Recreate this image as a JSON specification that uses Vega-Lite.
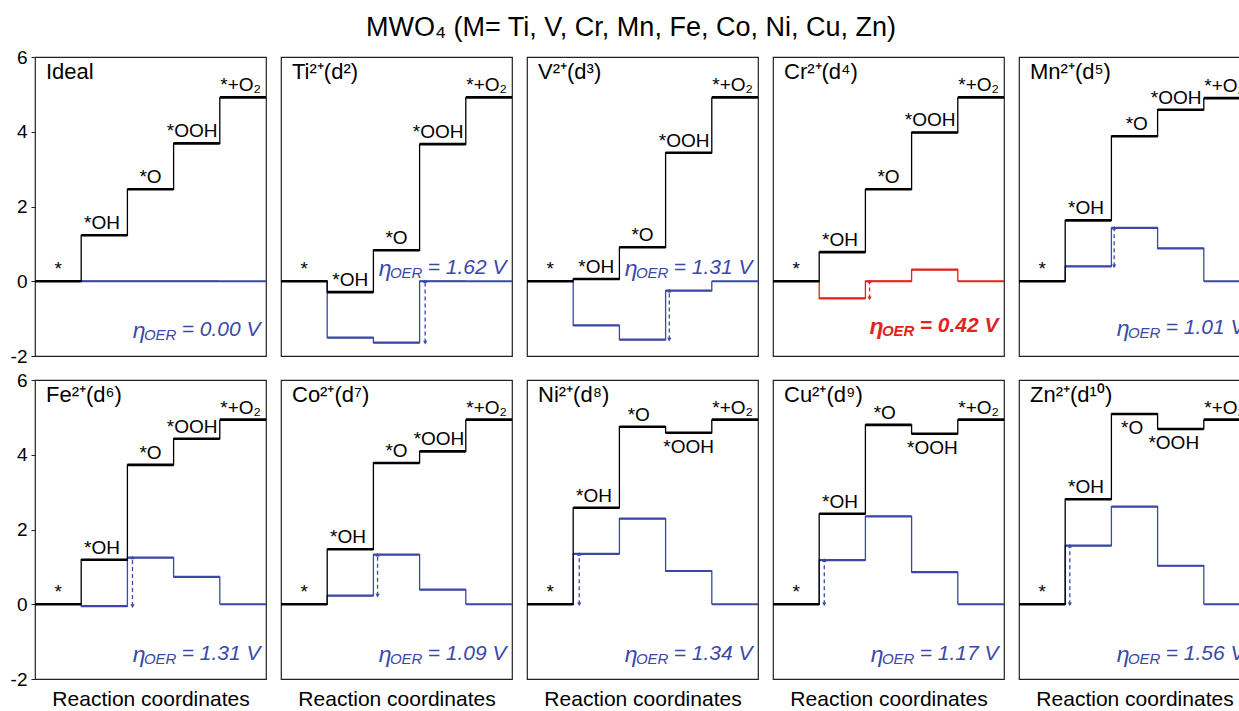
{
  "$schema": "https://vega.github.io/schema/vega-lite/v6.json",
  "padding": {"left": 10, "top": 14, "right": 0, "bottom": 0},
  "background": "white",
  "title": {"text": "MWO₄ (M= Ti, V, Cr, Mn, Fe, Co, Ni, Cu, Zn)", "fontSize": 27, "fontWeight": "normal", "font": "Liberation Sans", "color": "black", "anchor": "middle", "offset": 6},
  "config": {"font": "Liberation Sans", "view": {"stroke": "#222222", "strokeWidth": 1.2},
             "header": {"labels": false, "title": null, "labelPadding": 0, "titlePadding": 0, "labelFontSize": 0, "labelColor": "transparent"},
             "headerFacet": {"labels": false, "title": null, "labelPadding": 0, "titlePadding": 0, "labelFontSize": 0, "labelColor": "transparent"}},
  "data": {"values": [
    {"p":"Ideal","k":"ttl","t":"Ideal"},
    {"p":"Ideal","k":"lv","s":"G","x0":0,"x1":1,"xc":0.5,"y":0,"t":"*","side":"a"},
    {"p":"Ideal","k":"lv","s":"G","x0":1,"x1":2,"xc":1.45,"y":1.23,"t":"*OH","side":"a"},
    {"p":"Ideal","k":"lv","s":"G","x0":2,"x1":3,"xc":2.5,"y":2.46,"t":"*O","side":"a"},
    {"p":"Ideal","k":"lv","s":"G","x0":3,"x1":4,"xc":3.4,"y":3.69,"t":"*OOH","side":"a"},
    {"p":"Ideal","k":"lv","s":"G","x0":4,"x1":5,"xc":4.45,"y":4.92,"t":"*+O₂","side":"a"},
    {"p":"Ideal","k":"lv","s":"U","x0":0,"x1":1,"y":0},
    {"p":"Ideal","k":"lv","s":"U","x0":1,"x1":2,"y":0},
    {"p":"Ideal","k":"lv","s":"U","x0":2,"x1":3,"y":0},
    {"p":"Ideal","k":"lv","s":"U","x0":3,"x1":4,"y":0},
    {"p":"Ideal","k":"lv","s":"U","x0":4,"x1":5,"y":0},
    {"p":"Ideal","k":"eta","v":"= 0.00 V","ey":-1.3},

    {"p":"Ti","k":"ttl","t":"Ti²⁺(d²)"},
    {"p":"Ti","k":"lv","s":"G","x0":0,"x1":1,"xc":0.5,"y":0,"t":"*","side":"a"},
    {"p":"Ti","k":"lv","s":"G","x0":1,"x1":2,"xc":1.5,"y":-0.29,"t":"*OH","side":"a"},
    {"p":"Ti","k":"lv","s":"G","x0":2,"x1":3,"xc":2.5,"y":0.83,"t":"*O","side":"a"},
    {"p":"Ti","k":"lv","s":"G","x0":3,"x1":4,"xc":3.4,"y":3.67,"t":"*OOH","side":"a"},
    {"p":"Ti","k":"lv","s":"G","x0":4,"x1":5,"xc":4.45,"y":4.92,"t":"*+O₂","side":"a"},
    {"p":"Ti","k":"lv","s":"U","x0":0,"x1":1,"y":0},
    {"p":"Ti","k":"lv","s":"U","x0":1,"x1":2,"y":-1.51},
    {"p":"Ti","k":"lv","s":"U","x0":2,"x1":3,"y":-1.64},
    {"p":"Ti","k":"lv","s":"U","x0":3,"x1":4,"y":0},
    {"p":"Ti","k":"lv","s":"U","x0":4,"x1":5,"y":0},
    {"p":"Ti","k":"eta","v":"= 1.62 V","ey":0.36},
    {"p":"Ti","k":"arr","ax":3.12,"lo":-1.64,"hi":0},

    {"p":"V","k":"ttl","t":"V²⁺(d³)"},
    {"p":"V","k":"lv","s":"G","x0":0,"x1":1,"xc":0.5,"y":0,"t":"*","side":"a"},
    {"p":"V","k":"lv","s":"G","x0":1,"x1":2,"xc":1.5,"y":0.06,"t":"*OH","side":"a"},
    {"p":"V","k":"lv","s":"G","x0":2,"x1":3,"xc":2.5,"y":0.91,"t":"*O","side":"a"},
    {"p":"V","k":"lv","s":"G","x0":3,"x1":4,"xc":3.4,"y":3.44,"t":"*OOH","side":"a"},
    {"p":"V","k":"lv","s":"G","x0":4,"x1":5,"xc":4.45,"y":4.92,"t":"*+O₂","side":"a"},
    {"p":"V","k":"lv","s":"U","x0":0,"x1":1,"y":0},
    {"p":"V","k":"lv","s":"U","x0":1,"x1":2,"y":-1.18},
    {"p":"V","k":"lv","s":"U","x0":2,"x1":3,"y":-1.56},
    {"p":"V","k":"lv","s":"U","x0":3,"x1":4,"y":-0.25},
    {"p":"V","k":"lv","s":"U","x0":4,"x1":5,"y":0},
    {"p":"V","k":"eta","v":"= 1.31 V","ey":0.36},
    {"p":"V","k":"arr","ax":3.08,"lo":-1.56,"hi":-0.25},

    {"p":"Cr","k":"ttl","t":"Cr²⁺(d⁴)"},
    {"p":"Cr","k":"lv","s":"G","x0":0,"x1":1,"xc":0.5,"y":0,"t":"*","side":"a"},
    {"p":"Cr","k":"lv","s":"G","x0":1,"x1":2,"xc":1.45,"y":0.78,"t":"*OH","side":"a"},
    {"p":"Cr","k":"lv","s":"G","x0":2,"x1":3,"xc":2.5,"y":2.46,"t":"*O","side":"a"},
    {"p":"Cr","k":"lv","s":"G","x0":3,"x1":4,"xc":3.4,"y":3.98,"t":"*OOH","side":"a"},
    {"p":"Cr","k":"lv","s":"G","x0":4,"x1":5,"xc":4.45,"y":4.92,"t":"*+O₂","side":"a"},
    {"p":"Cr","k":"lv","s":"U","x0":0,"x1":1,"y":0},
    {"p":"Cr","k":"lv","s":"U","x0":1,"x1":2,"y":-0.46},
    {"p":"Cr","k":"lv","s":"U","x0":2,"x1":3,"y":0},
    {"p":"Cr","k":"lv","s":"U","x0":3,"x1":4,"y":0.31},
    {"p":"Cr","k":"lv","s":"U","x0":4,"x1":5,"y":0},
    {"p":"Cr","k":"eta","v":"= 0.42 V","ey":-1.2},
    {"p":"Cr","k":"arr","ax":2.09,"lo":-0.46,"hi":0},

    {"p":"Mn","k":"ttl","t":"Mn²⁺(d⁵)"},
    {"p":"Mn","k":"lv","s":"G","x0":0,"x1":1,"xc":0.5,"y":0,"t":"*","side":"a"},
    {"p":"Mn","k":"lv","s":"G","x0":1,"x1":2,"xc":1.45,"y":1.63,"t":"*OH","side":"a"},
    {"p":"Mn","k":"lv","s":"G","x0":2,"x1":3,"xc":2.55,"y":3.88,"t":"*O","side":"a"},
    {"p":"Mn","k":"lv","s":"G","x0":3,"x1":4,"xc":3.4,"y":4.59,"t":"*OOH","side":"a"},
    {"p":"Mn","k":"lv","s":"G","x0":4,"x1":5,"xc":4.45,"y":4.9,"t":"*+O₂","side":"a"},
    {"p":"Mn","k":"lv","s":"U","x0":0,"x1":1,"y":0},
    {"p":"Mn","k":"lv","s":"U","x0":1,"x1":2,"y":0.4},
    {"p":"Mn","k":"lv","s":"U","x0":2,"x1":3,"y":1.43},
    {"p":"Mn","k":"lv","s":"U","x0":3,"x1":4,"y":0.88},
    {"p":"Mn","k":"lv","s":"U","x0":4,"x1":5,"y":0},
    {"p":"Mn","k":"eta","v":"= 1.01 V","ey":-1.25},
    {"p":"Mn","k":"arr","ax":2.06,"lo":0.4,"hi":1.43},

    {"p":"Fe","k":"ttl","t":"Fe²⁺(d⁶)"},
    {"p":"Fe","k":"lv","s":"G","x0":0,"x1":1,"xc":0.5,"y":0,"t":"*","side":"a"},
    {"p":"Fe","k":"lv","s":"G","x0":1,"x1":2,"xc":1.45,"y":1.19,"t":"*OH","side":"a"},
    {"p":"Fe","k":"lv","s":"G","x0":2,"x1":3,"xc":2.5,"y":3.73,"t":"*O","side":"a"},
    {"p":"Fe","k":"lv","s":"G","x0":3,"x1":4,"xc":3.4,"y":4.43,"t":"*OOH","side":"a"},
    {"p":"Fe","k":"lv","s":"G","x0":4,"x1":5,"xc":4.45,"y":4.94,"t":"*+O₂","side":"a"},
    {"p":"Fe","k":"lv","s":"U","x0":0,"x1":1,"y":0},
    {"p":"Fe","k":"lv","s":"U","x0":1,"x1":2,"y":-0.05},
    {"p":"Fe","k":"lv","s":"U","x0":2,"x1":3,"y":1.25},
    {"p":"Fe","k":"lv","s":"U","x0":3,"x1":4,"y":0.73},
    {"p":"Fe","k":"lv","s":"U","x0":4,"x1":5,"y":0},
    {"p":"Fe","k":"eta","v":"= 1.31 V","ey":-1.33},
    {"p":"Fe","k":"arr","ax":2.11,"lo":-0.05,"hi":1.25},

    {"p":"Co","k":"ttl","t":"Co²⁺(d⁷)"},
    {"p":"Co","k":"lv","s":"G","x0":0,"x1":1,"xc":0.5,"y":0,"t":"*","side":"a"},
    {"p":"Co","k":"lv","s":"G","x0":1,"x1":2,"xc":1.45,"y":1.47,"t":"*OH","side":"a"},
    {"p":"Co","k":"lv","s":"G","x0":2,"x1":3,"xc":2.5,"y":3.78,"t":"*O","side":"a"},
    {"p":"Co","k":"lv","s":"G","x0":3,"x1":4,"xc":3.42,"y":4.09,"t":"*OOH","side":"a"},
    {"p":"Co","k":"lv","s":"G","x0":4,"x1":5,"xc":4.45,"y":4.94,"t":"*+O₂","side":"a"},
    {"p":"Co","k":"lv","s":"U","x0":0,"x1":1,"y":0},
    {"p":"Co","k":"lv","s":"U","x0":1,"x1":2,"y":0.23},
    {"p":"Co","k":"lv","s":"U","x0":2,"x1":3,"y":1.33},
    {"p":"Co","k":"lv","s":"U","x0":3,"x1":4,"y":0.39},
    {"p":"Co","k":"lv","s":"U","x0":4,"x1":5,"y":0},
    {"p":"Co","k":"eta","v":"= 1.09 V","ey":-1.33},
    {"p":"Co","k":"arr","ax":2.09,"lo":0.23,"hi":1.33},

    {"p":"Ni","k":"ttl","t":"Ni²⁺(d⁸)"},
    {"p":"Ni","k":"lv","s":"G","x0":0,"x1":1,"xc":0.5,"y":0,"t":"*","side":"a"},
    {"p":"Ni","k":"lv","s":"G","x0":1,"x1":2,"xc":1.45,"y":2.58,"t":"*OH","side":"a"},
    {"p":"Ni","k":"lv","s":"G","x0":2,"x1":3,"xc":2.42,"y":4.75,"t":"*O","side":"a"},
    {"p":"Ni","k":"lv","s":"G","x0":3,"x1":4,"xc":3.5,"y":4.59,"t":"*OOH","side":"b"},
    {"p":"Ni","k":"lv","s":"G","x0":4,"x1":5,"xc":4.45,"y":4.94,"t":"*+O₂","side":"a"},
    {"p":"Ni","k":"lv","s":"U","x0":0,"x1":1,"y":0},
    {"p":"Ni","k":"lv","s":"U","x0":1,"x1":2,"y":1.35},
    {"p":"Ni","k":"lv","s":"U","x0":2,"x1":3,"y":2.29},
    {"p":"Ni","k":"lv","s":"U","x0":3,"x1":4,"y":0.89},
    {"p":"Ni","k":"lv","s":"U","x0":4,"x1":5,"y":0},
    {"p":"Ni","k":"eta","v":"= 1.34 V","ey":-1.33},
    {"p":"Ni","k":"arr","ax":1.13,"lo":0,"hi":1.35},

    {"p":"Cu","k":"ttl","t":"Cu²⁺(d⁹)"},
    {"p":"Cu","k":"lv","s":"G","x0":0,"x1":1,"xc":0.5,"y":0,"t":"*","side":"a"},
    {"p":"Cu","k":"lv","s":"G","x0":1,"x1":2,"xc":1.45,"y":2.42,"t":"*OH","side":"a"},
    {"p":"Cu","k":"lv","s":"G","x0":2,"x1":3,"xc":2.42,"y":4.8,"t":"*O","side":"a"},
    {"p":"Cu","k":"lv","s":"G","x0":3,"x1":4,"xc":3.45,"y":4.56,"t":"*OOH","side":"b"},
    {"p":"Cu","k":"lv","s":"G","x0":4,"x1":5,"xc":4.45,"y":4.94,"t":"*+O₂","side":"a"},
    {"p":"Cu","k":"lv","s":"U","x0":0,"x1":1,"y":0},
    {"p":"Cu","k":"lv","s":"U","x0":1,"x1":2,"y":1.18},
    {"p":"Cu","k":"lv","s":"U","x0":2,"x1":3,"y":2.35},
    {"p":"Cu","k":"lv","s":"U","x0":3,"x1":4,"y":0.86},
    {"p":"Cu","k":"lv","s":"U","x0":4,"x1":5,"y":0},
    {"p":"Cu","k":"eta","v":"= 1.17 V","ey":-1.33},
    {"p":"Cu","k":"arr","ax":1.11,"lo":0,"hi":1.18},

    {"p":"Zn","k":"ttl","t":"Zn²⁺(d¹⁰)"},
    {"p":"Zn","k":"lv","s":"G","x0":0,"x1":1,"xc":0.5,"y":0,"t":"*","side":"a"},
    {"p":"Zn","k":"lv","s":"G","x0":1,"x1":2,"xc":1.45,"y":2.81,"t":"*OH","side":"a"},
    {"p":"Zn","k":"lv","s":"G","x0":2,"x1":3,"xc":2.45,"y":5.09,"t":"*O","side":"b"},
    {"p":"Zn","k":"lv","s":"G","x0":3,"x1":4,"xc":3.35,"y":4.69,"t":"*OOH","side":"b"},
    {"p":"Zn","k":"lv","s":"G","x0":4,"x1":5,"xc":4.45,"y":4.94,"t":"*+O₂","side":"a"},
    {"p":"Zn","k":"lv","s":"U","x0":0,"x1":1,"y":0},
    {"p":"Zn","k":"lv","s":"U","x0":1,"x1":2,"y":1.57},
    {"p":"Zn","k":"lv","s":"U","x0":2,"x1":3,"y":2.61},
    {"p":"Zn","k":"lv","s":"U","x0":3,"x1":4,"y":1.03},
    {"p":"Zn","k":"lv","s":"U","x0":4,"x1":5,"y":0},
    {"p":"Zn","k":"eta","v":"= 1.56 V","ey":-1.33},
    {"p":"Zn","k":"arr","ax":1.1,"lo":0,"hi":1.57}
  ]},
  "facet": {"field": "p", "type": "nominal", "title": null, "sort": ["Ideal","Ti","V","Cr","Mn","Fe","Co","Ni","Cu","Zn"], "header": {"labels": false, "labelPadding": 0, "titlePadding": 0, "labelFontSize": 0, "labelColor": "transparent"}},
  "columns": 5,
  "spacing": {"row": 22, "column": 9},
  "spec": {
    "width": 231,
    "height": 299,
    "layer": [
      {
        "transform": [{"filter": "datum.k === 'lv' && datum.s === 'U'"}],
        "mark": {"type": "line", "interpolate": "step-after", "strokeWidth": 1.3},
        "encoding": {
          "x": {"field": "x0", "type": "quantitative", "scale": {"domain": [0, 5], "nice": false, "zero": false},
                "axis": {"title": "Reaction coordinates", "labels": false, "ticks": false, "domain": false, "grid": false, "titleFontSize": 21, "titleFontWeight": "normal", "titlePadding": 8, "titleColor": "black", "titleFont": "Liberation Sans"}},
          "y": {"field": "y", "type": "quantitative", "scale": {"domain": [-2, 6], "nice": false, "zero": false},
                "axis": {"values": [-2, 0, 2, 4, 6], "labelExpr": "replace(datum.label, '−', '-')", "title": null, "grid": false, "domain": false, "tickSize": -4, "tickColor": "#222222", "labelFontSize": 19, "labelColor": "black", "labelPadding": 8, "labelFont": "Liberation Sans"}},
          "color": {"field": "p", "type": "nominal", "scale": {"domain": ["Ideal","Ti","V","Cr","Mn","Fe","Co","Ni","Cu","Zn"], "range": ["#3b48a8","#3b48a8","#3b48a8","#e3231d","#3b48a8","#3b48a8","#3b48a8","#3b48a8","#3b48a8","#3b48a8"]}, "legend": null}
        }
      },
      {
        "transform": [{"filter": "datum.k === 'lv' && datum.s === 'U' && datum.x0 >= 1"}],
        "mark": {"type": "rule", "strokeWidth": 2.2},
        "encoding": {
          "x": {"field": "x0", "type": "quantitative"},
          "x2": {"field": "x1"},
          "y": {"field": "y", "type": "quantitative"},
          "color": {"field": "p", "type": "nominal", "legend": null}
        }
      },
      {
        "transform": [{"filter": "datum.k === 'arr'"}],
        "mark": {"type": "rule", "strokeWidth": 1.3, "strokeDash": [4, 3]},
        "encoding": {
          "x": {"field": "ax", "type": "quantitative"},
          "y": {"field": "lo", "type": "quantitative"},
          "y2": {"field": "hi"},
          "color": {"field": "p", "type": "nominal", "legend": null}
        }
      },
      {
        "transform": [{"filter": "datum.k === 'arr'"}],
        "mark": {"type": "point", "shape": "triangle-up", "filled": true, "size": 18, "opacity": 1},
        "encoding": {
          "x": {"field": "ax", "type": "quantitative"},
          "y": {"field": "hi", "type": "quantitative"},
          "color": {"field": "p", "type": "nominal", "legend": null}
        }
      },
      {
        "transform": [{"filter": "datum.k === 'arr'"}],
        "mark": {"type": "point", "shape": "triangle-down", "filled": true, "size": 18, "opacity": 1},
        "encoding": {
          "x": {"field": "ax", "type": "quantitative"},
          "y": {"field": "lo", "type": "quantitative"},
          "color": {"field": "p", "type": "nominal", "legend": null}
        }
      },
      {
        "transform": [{"filter": "datum.k === 'lv' && datum.s === 'G'"}],
        "mark": {"type": "line", "interpolate": "step-after", "strokeWidth": 1.3, "color": "black"},
        "encoding": {
          "x": {"field": "x0", "type": "quantitative"},
          "y": {"field": "y", "type": "quantitative"}
        }
      },
      {
        "transform": [{"filter": "datum.k === 'lv' && datum.s === 'G'"}],
        "mark": {"type": "rule", "strokeWidth": 2.6, "color": "black"},
        "encoding": {
          "x": {"field": "x0", "type": "quantitative"},
          "x2": {"field": "x1"},
          "y": {"field": "y", "type": "quantitative"}
        }
      },
      {
        "transform": [{"filter": "datum.k === 'lv' && datum.s === 'G' && datum.side === 'a'"}],
        "mark": {"type": "text", "fontSize": 19, "baseline": "alphabetic", "align": "center", "dy": -6, "color": "black"},
        "encoding": {
          "x": {"field": "xc", "type": "quantitative"},
          "y": {"field": "y", "type": "quantitative"},
          "text": {"field": "t"}
        }
      },
      {
        "transform": [{"filter": "datum.k === 'lv' && datum.s === 'G' && datum.side === 'b'"}],
        "mark": {"type": "text", "fontSize": 19, "baseline": "top", "align": "center", "dy": 5, "color": "black"},
        "encoding": {
          "x": {"field": "xc", "type": "quantitative"},
          "y": {"field": "y", "type": "quantitative"},
          "text": {"field": "t"}
        }
      },
      {
        "transform": [{"filter": "datum.k === 'ttl'"}],
        "mark": {"type": "text", "fontSize": 22, "baseline": "top", "align": "left", "dx": 11, "dy": 5, "color": "black"},
        "encoding": {
          "x": {"datum": 0},
          "y": {"datum": 6},
          "text": {"field": "t"}
        }
      },
      {
        "transform": [{"filter": "datum.k === 'eta'"}],
        "mark": {"type": "text", "fontSize": 21, "fontStyle": "italic", "fontWeight": {"expr": "datum.p === 'Cr' ? 'bold' : 'normal'"}, "baseline": "middle", "align": "right"},
        "encoding": {
          "x": {"datum": 4.88},
          "y": {"field": "ey", "type": "quantitative"},
          "text": {"field": "v"},
          "color": {"field": "p", "type": "nominal", "legend": null}
        }
      },
      {
        "transform": [{"filter": "datum.k === 'eta'"}],
        "mark": {"type": "text", "text": "OER", "fontSize": 15, "fontStyle": "italic", "fontWeight": {"expr": "datum.p === 'Cr' ? 'bold' : 'normal'"}, "baseline": "middle", "align": "right", "dx": -84, "dy": 5},
        "encoding": {
          "x": {"datum": 4.88},
          "y": {"field": "ey", "type": "quantitative"},
          "color": {"field": "p", "type": "nominal", "legend": null}
        }
      },
      {
        "transform": [{"filter": "datum.k === 'eta'"}],
        "mark": {"type": "text", "text": "η", "fontSize": 23, "fontStyle": "italic", "fontWeight": {"expr": "datum.p === 'Cr' ? 'bold' : 'normal'"}, "baseline": "middle", "align": "right", "dx": -115, "dy": 1},
        "encoding": {
          "x": {"datum": 4.88},
          "y": {"field": "ey", "type": "quantitative"},
          "color": {"field": "p", "type": "nominal", "legend": null}
        }
      }
    ]
  }
}
